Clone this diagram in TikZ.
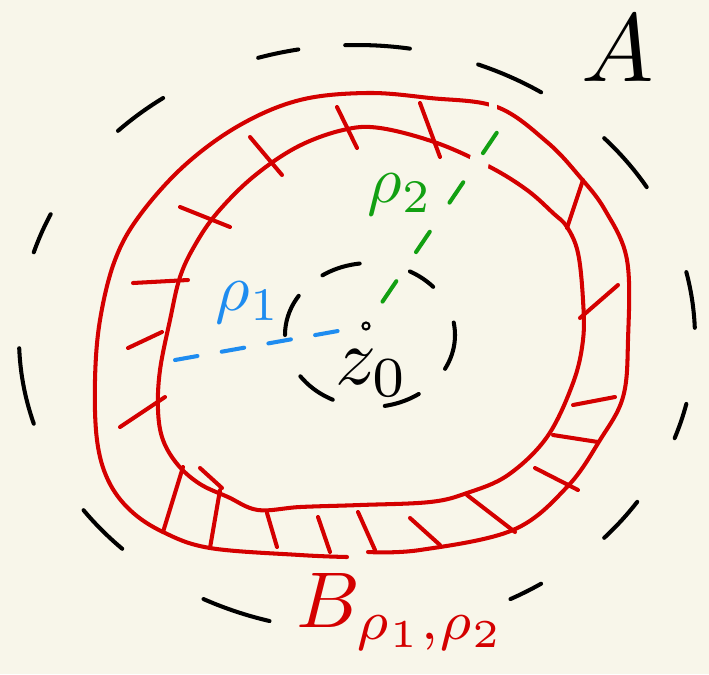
\documentclass[tikz,border=0pt]{standalone}
\usepackage{tikz}
\definecolor{ANNRed}{HTML}{D40000}
\definecolor{ANNBlue}{HTML}{1E8CF0}
\definecolor{ANNGreen}{HTML}{12A012}
\definecolor{ANNInk}{HTML}{000000}
\definecolor{ANNPaper}{HTML}{F8F6EA}
\tikzset{
  annring/.style={draw=ANNRed,line width=2.3pt,line cap=round,line join=round},
  annhatch/.style={draw=ANNRed,line width=2.3pt,line cap=round},
  annerase/.style={draw=ANNPaper,line cap=butt},
  anndash/.style={draw=ANNInk,line width=2.3pt,line cap=round},
  annradius/.style={line width=2.3pt,line cap=round},
  annlabel/.style={inner sep=0pt}
}

\begin{document}
\begin{tikzpicture}[x=0.02cm,y=-0.02cm]
  \fill[ANNPaper] (0,0) rectangle (709,674);
  \useasboundingbox (0,0) rectangle (709,674);
  \coordinate (z0) at (366,326);
  \coordinate (p1) at (175,360);
  \coordinate (p2) at (502,125);

  % the ring B
  \draw[annring] plot[smooth,tension=0.6] coordinates {(368,552) (420,550) (513,530)
    (567,487) (600,440) (623,397) (628,340) (627,260) (605,210) (580,177) (547,142)
    (497,107) (430,98) (367,93) (300,100) (240,125) (185,165) (140,215) (115,260)
    (100,320) (95,380) (97,440) (108,480) (130,510) (163,532) (210,548) (300,555) (347,557)};
  \draw[annring] plot[smooth cycle,tension=0.6] coordinates {(158,410) (160,370) (170,320)
    (180,277) (195,245) (217,213) (253,177) (297,147) (343,130) (380,128) (437,143)
    (490,167) (527,190) (553,213) (567,227) (578,253) (583,300) (583,340) (573,383)
    (547,437) (508,475) (467,493) (430,502) (360,505) (300,507) (258,510)
    (228,497) (200,484) (178,465) (163,440)};
  \foreach \xa/\ya/\xb/\yb in {337/107/357/148, 250/137/282/175, 180/207/230/227,
      133/283/188/280, 128/348/162/332, 120/427/165/397, 420/103/440/157,
      583/180/567/228, 618/285/580/318, 615/397/573/405, 553/435/598/442,
      535/468/578/490, 467/495/515/532, 410/518/440/545, 183/467/163/532,
      200/468/222/488, 220/490/210/548, 267/513/277/547, 318/517/330/552,
      358/512/375/550}
    \draw[annhatch] (\xa,\ya) -- (\xb,\yb);
  \draw[annerase,line width=4pt] (493,98) -- (493,118);
  \draw[annerase,line width=11pt] (481,152) -- (477,174);

  % dashed circles
  \foreach \a/\b in {268/279, 291/303, 317/329, 347/358, 13/20, 34/43, 57/63,
      105/117, 134/144, 163/178, 197/205, 225/235, 253/260}
    \draw[anndash] plot[domain=\a:\b,samples=10,smooth] ({357+338*cos(\x)},{338+293*sin(\x)});
  \foreach \a/\b in {180/213, 236/263, 298/318, 350/388, 55/80, 116/145}
    \draw[anndash] plot[domain=\a:\b,samples=10,smooth] ({370+85*cos(\x)},{335+72*sin(\x)});

  % radii
  \draw[annradius,draw=ANNBlue,dash pattern=on 13pt off 14pt,shorten >=0.42cm] (p1) -- (z0);
  \draw[annradius,draw=ANNGreen,dash pattern=on 14pt off 20pt,shorten <=0.59cm] (z0) -- (p2);
  \draw[line width=1.2pt] (z0) circle[radius=2pt];

  \node[annlabel,text=ANNBlue,scale=3.8] (rho1) at (248,303) {$\rho_1$};
  \node[annlabel,text=ANNGreen,scale=3.8] (rho2) at (400,195) {$\rho_2$};
  \node[annlabel,scale=4.6] (z0lab) at (372,373) {$z_0$};
  \node[annlabel,scale=5.5] (A) at (618,48) {$A$};
  \node[annlabel,text=ANNRed,scale=4.5] (B) at (402,612) {$B_{\rho_1,\rho_2}$};
\end{tikzpicture}
\end{document}
